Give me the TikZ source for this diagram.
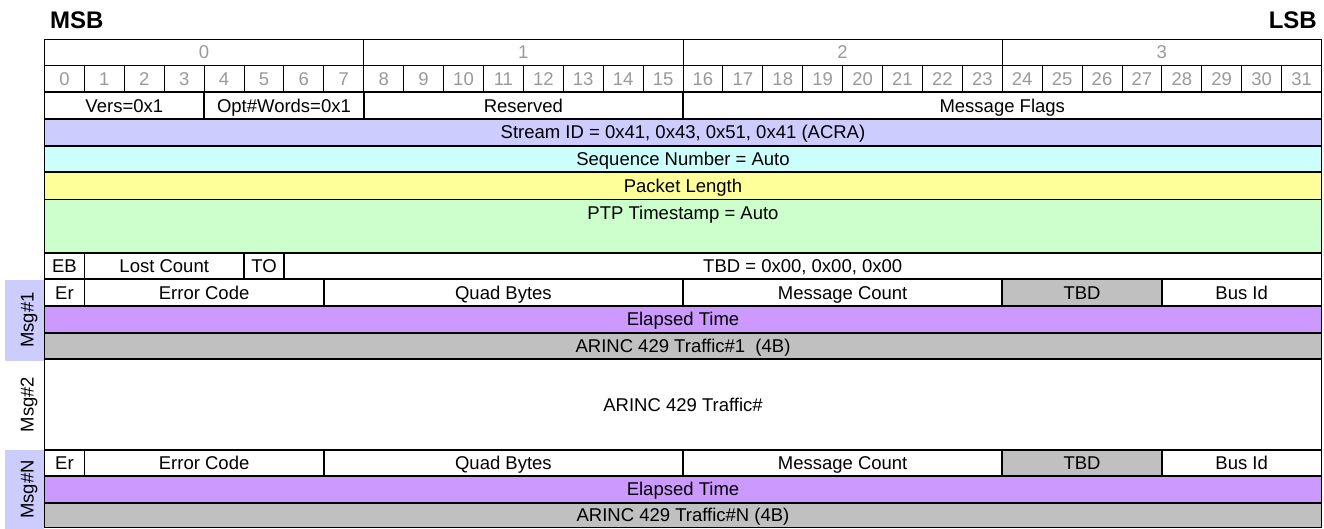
\documentclass[tikz,border=0pt]{standalone}
\usepackage{fontspec}
\setmainfont{Liberation Sans}
\definecolor{lav}{HTML}{CCCCFF}
\definecolor{cyanl}{HTML}{CCFFFF}
\definecolor{yel}{HTML}{FFFF99}
\definecolor{grn}{HTML}{CCFFCC}
\definecolor{purp}{HTML}{CC99FF}
\definecolor{gry}{HTML}{C0C0C0}
\definecolor{hdrgray}{HTML}{9A9A9A}
\newcommand\fs{\fontsize{18.5}{21}\selectfont}
\def\bw{39.906}
\def\xo{44.5}
% name, start bit, nbits, ytop, ybottom, fill, style, text
\newcommand\fld[8]{%
  \node[#7, fill=#6, minimum width={#3*\bw pt}, minimum height={(#5-#4)*1pt}, anchor=north west]
    (#1) at ({\xo+#2*\bw}, #4) {#8};}
\tikzset{
  hdr/.style={draw, line width=0.9pt, inner sep=0pt, outer sep=0pt, text=hdrgray, font=\fs,
    text height=13pt, text depth=0pt},
  cellbox/.style={draw, line width=1.8pt, inner sep=0pt, outer sep=0pt, font=\fs,
    text height=13pt, text depth=0pt},
  msgfill/.style={fill=lav, inner sep=0pt, outer sep=0pt, minimum width=39pt},
  msgtext/.style={rotate=90, font=\fs, inner sep=0pt, text height=13pt, text depth=0pt},
  sbtext/.style={font=\fontsize{24}{27}\selectfont\bfseries, inner sep=0pt}
}
\begin{document}
\begin{tikzpicture}[x=1pt, y=-1pt]
\useasboundingbox (0,0) rectangle (1324,529);
\fill[white] (0,0) rectangle (1324,529);
% MSB / LSB
\node[sbtext, anchor=base west] (msb) at (50,29) {MSB};
\node[sbtext, anchor=base east] (lsb) at (1317,29) {LSB};
% header: bytes
\foreach \i in {0,...,3}{\fld{byte\i}{8*\i}{8}{39.3}{65.7}{white}{hdr}{\i}}
% header: bits
\foreach \i in {0,...,31}{\fld{bit\i}{\i}{1}{65.7}{92.3}{white}{hdr}{\i}}
% row: version
\fld{vers}{0}{4}{92.3}{119.3}{white}{cellbox}{Vers=0x1}
\fld{opt}{4}{4}{92.3}{119.3}{white}{cellbox}{Opt\#Words=0x1}
\fld{resv}{8}{8}{92.3}{119.3}{white}{cellbox}{Reserved}
\fld{flags}{16}{16}{92.3}{119.3}{white}{cellbox}{Message Flags}
\fld{stream}{0}{32}{119.3}{145.7}{lav}{cellbox}{Stream ID = 0x41, 0x43, 0x51, 0x41 (ACRA)}
\fld{seq}{0}{32}{145.7}{172}{cyanl}{cellbox}{Sequence Number = Auto}
\fld{plen}{0}{32}{172}{199.5}{yel}{cellbox}{Packet Length}
\fld{ptp}{0}{32}{199.5}{252.7}{grn}{cellbox}{}
\node[font=\fs, inner sep=0pt, text height=13pt, text depth=0pt] (ptptext) at ([yshift=-13.5pt]ptp.north) {PTP Timestamp = Auto};
\fld{eb}{0}{1}{252.7}{279}{white}{cellbox}{EB}
\fld{lost}{1}{4}{252.7}{279}{white}{cellbox}{Lost Count}
\fld{to}{5}{1}{252.7}{279}{white}{cellbox}{TO}
\fld{tbdz}{6}{26}{252.7}{279}{white}{cellbox}{TBD = 0x00, 0x00, 0x00}
% message 1
\fld{erA}{0}{1}{279}{306}{white}{cellbox}{Er}
\fld{ecA}{1}{6}{279}{306}{white}{cellbox}{Error Code}
\fld{qbA}{7}{9}{279}{306}{white}{cellbox}{Quad Bytes}
\fld{mcA}{16}{8}{279}{306}{white}{cellbox}{Message Count}
\fld{tbdA}{24}{4}{279}{306}{gry}{cellbox}{TBD}
\fld{busA}{28}{4}{279}{306}{white}{cellbox}{Bus Id}
\fld{elA}{0}{32}{306}{332.7}{purp}{cellbox}{Elapsed Time}
\fld{arA}{0}{32}{332.7}{359.3}{gry}{cellbox}{ARINC 429 Traffic\#1\ \ (4B)}
% message 2
\fld{msgB}{0}{32}{359.3}{450}{white}{cellbox}{ARINC 429 Traffic\#}
% message N
\fld{erN}{0}{1}{450}{476}{white}{cellbox}{Er}
\fld{ecN}{1}{6}{450}{476}{white}{cellbox}{Error Code}
\fld{qbN}{7}{9}{450}{476}{white}{cellbox}{Quad Bytes}
\fld{mcN}{16}{8}{450}{476}{white}{cellbox}{Message Count}
\fld{tbdN}{24}{4}{450}{476}{gry}{cellbox}{TBD}
\fld{busN}{28}{4}{450}{476}{white}{cellbox}{Bus Id}
\fld{elN}{0}{32}{476}{502.7}{purp}{cellbox}{Elapsed Time}
\fld{arN}{0}{32}{502.7}{527.5}{gry}{cellbox}{ARINC 429 Traffic\#N (4B)}
% left message labels
\node[msgfill, minimum height=80.5pt, anchor=north west] (lblA) at (5,280) {};
\node[msgtext] (lblAt) at (27,320) {Msg\#1};
\node[msgtext] (lblBt) at (27,404.6) {Msg\#2};
\node[msgfill, minimum height=79pt, anchor=north west] (lblN) at (5,450) {};
\node[msgtext] (lblNt) at (27,489.5) {Msg\#N};
\end{tikzpicture}
\end{document}
